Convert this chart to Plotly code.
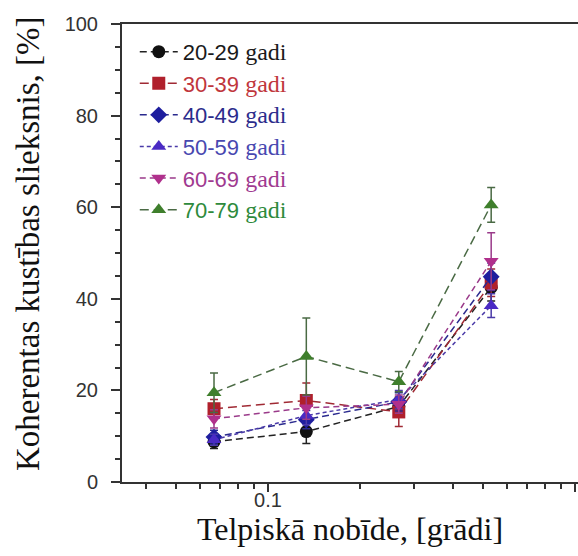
import plotly.graph_objects as go

# spatial displacement [degrees]
x_deg = [0.0667, 0.1333, 0.2667, 0.5333]

groups = ["20-29", "30-39", "40-49", "50-59", "60-69", "70-79"]
y20 = [8.8, 11.0, 16.5, 42.5]
e20 = [1.5, 2.6, 2.0, 3.0]
y30 = [16.0, 17.8, 15.3, 43.5]
e30 = [2.0, 3.8, 3.2, 3.0]
y40 = [9.8, 13.6, 17.5, 44.8]
e40 = [1.5, 2.0, 2.0, 3.0]
y50 = [9.2, 14.5, 18.0, 38.5]
e50 = [1.2, 2.0, 2.0, 2.6]
y60 = [13.8, 16.2, 17.0, 48.2]
e60 = [2.0, 2.5, 2.0, 6.2]
y70 = [19.5, 27.4, 21.9, 60.5]
e70 = [4.3, 8.4, 2.2, 3.8]

ys = [y20, y30, y40, y50, y60, y70]
es = [e20, e30, e40, e50, e60, e70]
marker_colors = ["#111111", "#b0202c", "#1e1e9e", "#4a2ac4", "#b0308c", "#3f7f2c"]
line_colors = ["#222222", "#a02a34", "#2a2a8e", "#4a3aa8", "#9a3a8a", "#4a6a44"]
text_colors = ["#1a1a1a", "#c0363c", "#2c2c8c", "#4848b0", "#a03a90", "#2e8a3c"]
symbols = ["circle", "square", "diamond", "triangle-up", "triangle-down", "triangle-up"]
dashes = ["7px,4px", "9px,5px", "7px,4px", "4px,3px", "6px,4px", "9px,5px"]

fig = go.Figure()
for g, y, e, mc, lc, tc, sym, d in zip(groups, ys, es, marker_colors, line_colors,
                                       text_colors, symbols, dashes):
    name = (f"<span style='color:{tc}'>{g} </span>"
            f"<span style='color:{tc};font-family:Liberation Serif;font-size:24px'>gadi</span>")
    fig.add_trace(go.Scatter(
        x=x_deg, y=y, name=name, mode="lines+markers",
        line=dict(color=lc, width=1.5, dash=d),
        marker=dict(symbol=sym, size=13, color=mc),
        error_y=dict(type="data", array=e, visible=True, color=lc,
                     thickness=1.5, width=4),
    ))

fig.update_layout(
    width=578, height=556,
    margin=dict(l=122, r=0, t=24, b=74),
    paper_bgcolor="white", plot_bgcolor="white",
    font=dict(family="Liberation Sans", size=20, color="#333333"),
    showlegend=True,
    legend=dict(x=0.028, y=0.985, xanchor="left", yanchor="top",
                bgcolor="rgba(0,0,0,0)", font=dict(size=22, family="Liberation Sans"),
                itemwidth=38, tracegroupgap=0),
    annotations=[dict(
        text="Koherentas kustības slieksnis, [%]", textangle=-90,
        xref="paper", yref="paper", x=(28 - 122) / 456, y=(482 - 244) / 458,
        xanchor="center", yanchor="middle", showarrow=False,
        font=dict(family="Liberation Serif", size=33, color="#111111"),
    )],
)
fig.update_xaxes(
    type="log", range=[-1.4756, 0.0098],
    tickvals=[0.1, 1], ticktext=["0.1", "1"],
    ticks="outside", ticklen=8, tickwidth=1.5, tickcolor="#333333",
    ticklabelstandoff=-9,
    minor=dict(tickvals=[0.04, 0.05, 0.06, 0.07, 0.08, 0.09,
                         0.2, 0.3, 0.4, 0.5, 0.6, 0.7, 0.8, 0.9],
               ticks="outside", ticklen=5, tickwidth=1.5, tickcolor="#333333"),
    showline=True, linewidth=2, linecolor="#333333", mirror=True,
    showgrid=False, zeroline=False,
    title=dict(text="Telpiskā nobīde, [grādi]",
               font=dict(family="Liberation Serif", size=32, color="#111111"),
               standoff=2),
)
fig.update_yaxes(
    range=[0, 100], tickvals=[0, 20, 40, 60, 80, 100],
    ticks="outside", ticklen=9, tickwidth=1.5, tickcolor="#333333",
    ticklabelstandoff=9,
    minor=dict(dtick=5, ticks="outside", ticklen=5, tickwidth=1.5, tickcolor="#333333"),
    showline=True, linewidth=2, linecolor="#333333", mirror=False,
    showgrid=False, zeroline=False,
)

fig.write_html("out.html", config={"displayModeBar": False},
               post_script="document.body.style.margin='0';")
